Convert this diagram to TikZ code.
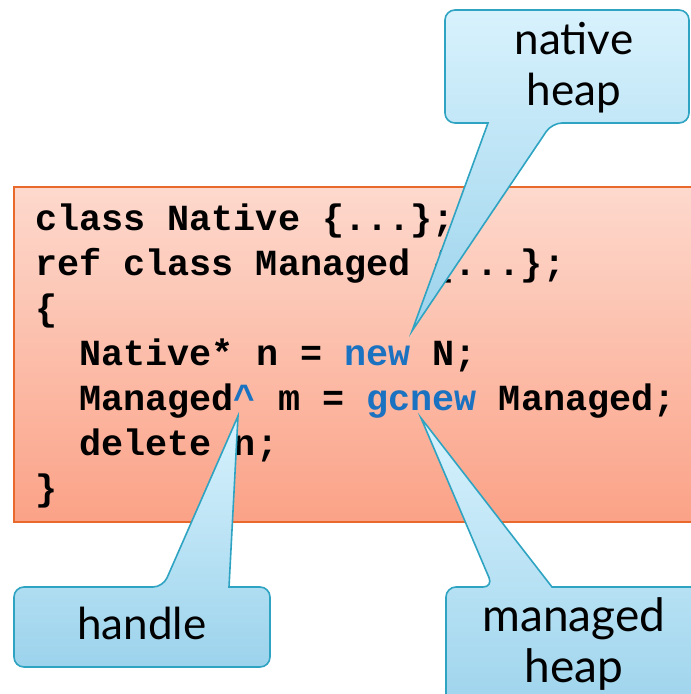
\documentclass[tikz,border=0pt]{standalone}
\usepackage{fontspec}
\setmainfont{Lato}
\newfontfamily\codefont{Liberation Mono}
\definecolor{codetop}{HTML}{FDD9CD}
\definecolor{codebot}{HTML}{FBA287}
\definecolor{codeline}{HTML}{E8692B}
\definecolor{calltop}{HTML}{D8F2FD}
\definecolor{callbot}{HTML}{9CD3EC}
\definecolor{callline}{HTML}{2FA4C2}
\definecolor{kw}{HTML}{1B72C0}
\tikzset{
  codebox/.style={top color=codetop, bottom color=codebot, draw=codeline, line width=2pt},
  callout/.style={top color=calltop, bottom color=callbot, draw=callline, line width=1.6pt, line join=miter},
  codetext/.style={anchor=base west, inner sep=0pt, font=\codefont\bfseries\fontsize{36.8}{40}\selectfont},
  calltext/.style={inner sep=0pt, align=center, font=\fontsize{44}{51}\selectfont},
}
% callout with the pointer on its lower edge: x1,y1,x2,y2, base left, base right, tip x, tip y
\newcommand\calloutdown[8]{%
  \path[callout] (#1+30,#2) [rounded corners=10pt] -- (#3,#2) -- (#3,#4) -- (#6,#4)
    [sharp corners] -- (#7,#8) -- (#5,#4) [rounded corners=10pt] -- (#1,#4) -- (#1,#2) -- cycle;}
% callout with the pointer on its upper edge
\newcommand\calloutup[8]{%
  \path[callout] (#1+30,#4) [rounded corners=10pt] -- (#1,#4) -- (#1,#2) -- (#5,#2)
    [sharp corners] -- (#7,#8) -- (#6,#2) [rounded corners=10pt] -- (#3,#2) -- (#3,#4) -- cycle;}
\begin{document}
\begin{tikzpicture}[x=1pt,y=-1pt]
\clip (0,0) rectangle (691,694);
\fill[white] (0,0) rectangle (691,694);

% code panel
\path[codebox] (14,187) rectangle (720,522);
\node[codetext] (l1) at (35,230) {class Native \{...\};};
\node[codetext] (l2) at (35,275) {ref class Managed \{...\};};
\node[codetext] (l3) at (35,320) {\{};
\node[codetext] (l4) at (79.2,365) {Native* n = \textcolor{kw}{new} N;};
\node[codetext] (l5) at (79.2,410) {Managed\textcolor{kw}{\char`\^} m = \textcolor{kw}{gcnew} Managed;};
\node[codetext] (l6) at (79.2,455) {delete n;};
\node[codetext] (l7) at (35,500) {\}};

% callouts
\calloutdown{445}{10}{689}{123}{488}{552}{412}{331}
\node[calltext] (native) at (574,68) {native\\heap};

\calloutup{14}{587}{270}{667}{163}{229}{238}{416}
\node[calltext, anchor=base] (handle) at (142,639) {handle};

\calloutup{446}{587}{720}{720}{493}{552}{421}{418}
\node[calltext, font=\fontsize{46}{51}\selectfont] (managed) at (574,644) {managed\\heap};
\end{tikzpicture}
\end{document}
